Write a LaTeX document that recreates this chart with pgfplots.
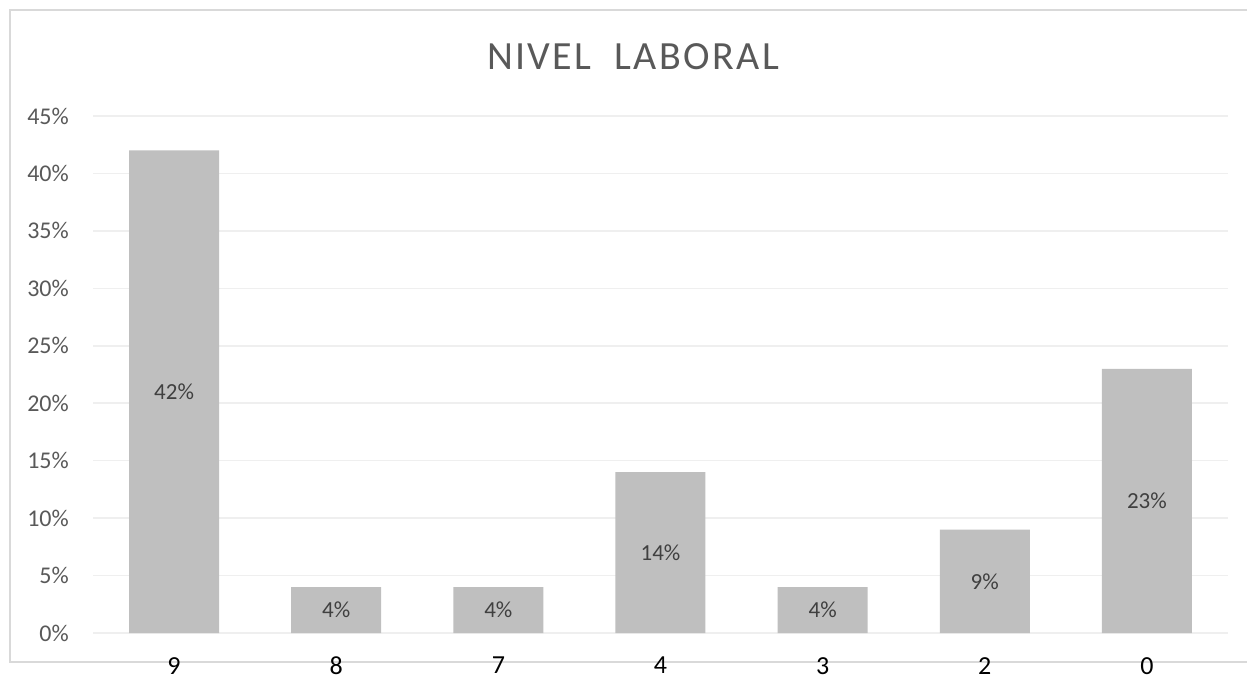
\documentclass[border=0pt]{standalone}
\usepackage{pgfplots}
\pgfplotsset{compat=1.18}
\usepackage{fontspec}
\setmainfont{Carlito}
\definecolor{bargray}{HTML}{BFBFBF}
\definecolor{gridgray}{HTML}{EFEFEF}
\definecolor{txtgray}{HTML}{595959}
\definecolor{lblgray}{HTML}{404040}
\definecolor{bordergray}{HTML}{D9D9D9}
\begin{document}
\begin{tikzpicture}[x=1pt,y=1pt]
\useasboundingbox (0,0) rectangle (1247,680);
\draw[bordergray, line width=1.5pt] (10,18) rectangle (1275,670);
\node[anchor=base, text=txtgray, font=\fontsize{40}{46}\selectfont\addfontfeatures{LetterSpace=6}] at (633,610) {NIVEL\ \ LABORAL};
\begin{axis}[
  at={(93pt,47pt)}, anchor=south west, scale only axis,
  width=1135pt, height=517pt,
  xmin=-0.5, xmax=6.5, ymin=0, ymax=45,
  axis line style={draw=none},
  tick style={draw=none},
  ymajorgrids, major grid style={gridgray, line width=1.5pt},
  ytick={0,5,...,45},
  /pgf/number format/assume math mode=true,
  yticklabel={\pgfmathprintnumber{\tick}\%},
  yticklabel style={anchor=east, inner sep=0pt, xshift=-24pt, text=txtgray, font=\fontsize{24}{28}\selectfont},
  xtick={0,...,6},
  xticklabels={9,8,7,4,3,2,0},
  xticklabel style={anchor=north, inner sep=0pt, yshift=-24pt, text=black, font=\fontsize{26}{30}\selectfont},
  clip=false,
]
\addplot[ybar, bar width=90pt, fill=bargray, draw=none,
  visualization depends on=y \as \rawy,
  nodes near coords={\pgfmathprintnumber{\pgfplotspointmeta}\%},
  nodes near coords style={anchor=center, yshift={-0.5*\rawy*517/45}, text=lblgray, font=\fontsize{23}{27}\selectfont},
] coordinates {(0,42) (1,4) (2,4) (3,14) (4,4) (5,9) (6,23)};
\end{axis}
\end{tikzpicture}
\end{document}
